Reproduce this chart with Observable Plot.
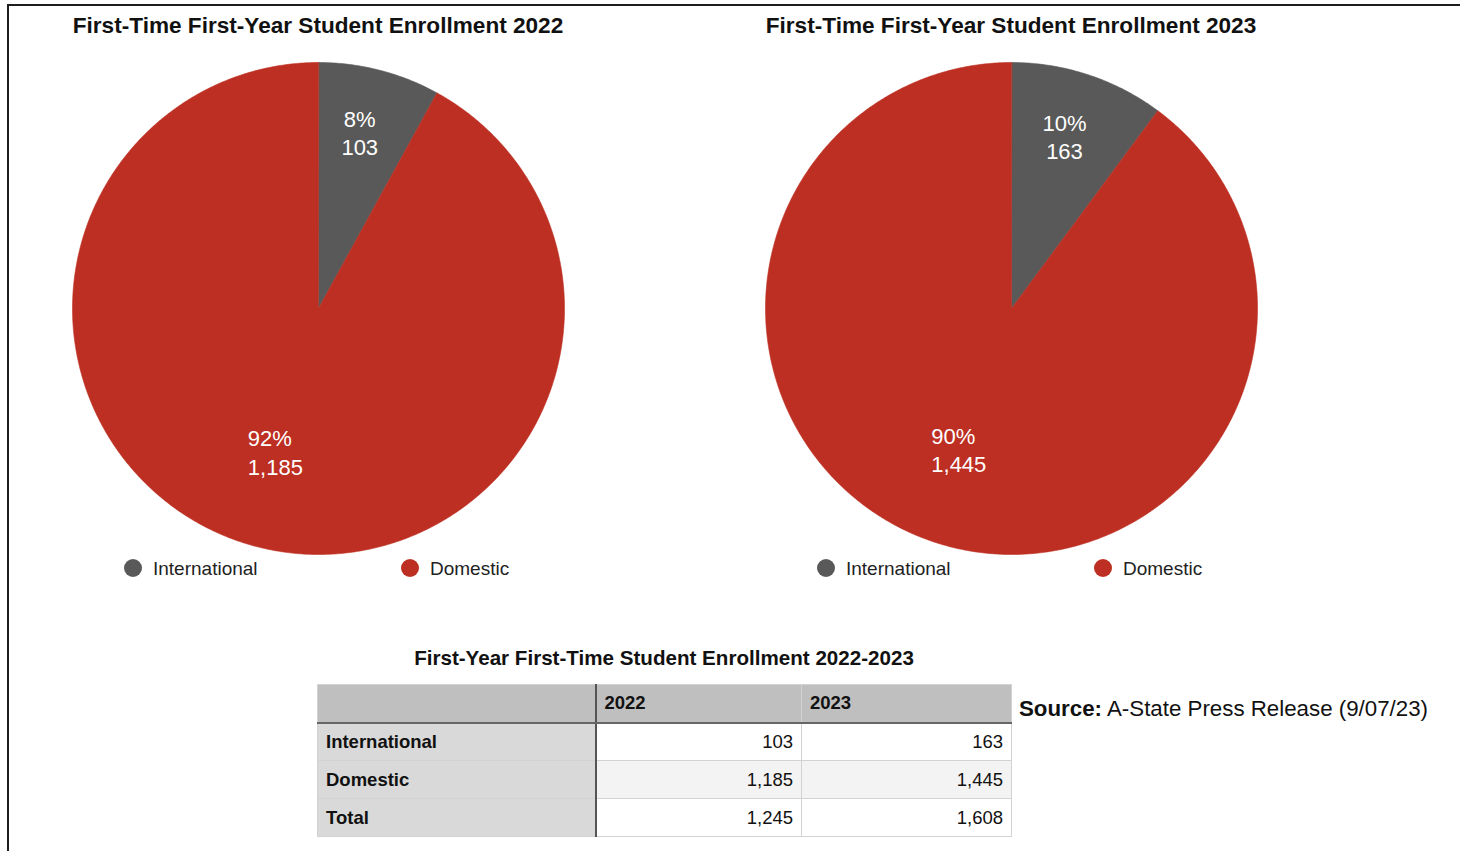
<!DOCTYPE html>
<html>
<head>
<meta charset="utf-8">
<script src="https://cdn.jsdelivr.net/npm/d3@7"></script>
<script src="https://cdn.jsdelivr.net/npm/@observablehq/plot@0.6"></script>
<style>
html,body{margin:0;padding:0;background:#fff;}
body{width:1460px;height:851px;position:relative;overflow:hidden;font-family:"Liberation Sans",Arial,Helvetica,sans-serif;color:#111;}
.frame{position:absolute;left:7px;top:4px;width:1500px;height:900px;border-left:2px solid #1e1e1e;border-top:2px solid #1e1e1e;box-sizing:border-box;}
.title{position:absolute;font-weight:bold;font-size:22.6px;line-height:22px;white-space:nowrap;transform:translateX(-50%);}
.pie{position:absolute;}
.leg{position:absolute;font-size:19px;line-height:19px;white-space:nowrap;color:#222;}
.dot{position:absolute;width:18px;height:18px;border-radius:50%;}
.ttitle{position:absolute;font-weight:bold;font-size:20.6px;line-height:20px;white-space:nowrap;transform:translateX(-50%);}
table{position:absolute;left:317px;top:684px;border-collapse:collapse;font-size:18.5px;}
td{height:37px;padding:0 8px;border:1px solid #d2d2d2;box-sizing:border-box;}
td.lab{width:278px;background:#d9d9d9;font-weight:bold;border-right:2px solid #555;}
td.num{text-align:right;}
tr.head td{background:#bfbfbf;font-weight:bold;border-bottom:2px solid #666;}
tr.head td.lab{background:#bfbfbf;}
.source{position:absolute;left:1019px;top:698px;font-size:22.3px;line-height:22px;white-space:nowrap;}
</style>
</head>
<body>
<div class="frame"></div>
<div id="root"></div>
<script>
// ---- data ----
const categories = ["International", "Domestic"];
const years = ["2022", "2023"];
const values2022 = [103, 1185];
const values2023 = [163, 1445];
const tableTotals = [1245, 1608];
const pieTitles = ["First-Time First-Year Student Enrollment 2022", "First-Time First-Year Student Enrollment 2023"];
const tableTitle = "First-Year First-Time Student Enrollment 2022-2023";
const sourceLabel = "Source:";
const sourceText = " A-State Press Release (9/07/23)";
const colors = ["#595959", "#bd2f22"];

// ---- layout constants ----
const pieCenters = [[318, 308], [1011, 308]];
const R = 246, M = 14, S = 2 * (R + M);
const labelRadius = {International: 0.74, Domestic: 0.60};
const fmt = d3.format(",");
const root = document.getElementById("root");
const FONT = "Liberation Sans, Arial, sans-serif";

[values2022, values2023].forEach((vals, k) => {
  const total = d3.sum(vals);
  const arcs = d3.pie().sort(null).value(d => d)(vals);
  const pts = [];
  arcs.forEach((a, i) => {
    const cat = categories[i];
    pts.push({cat, x: 0, y: 0});
    const n = Math.max(2, Math.ceil((a.endAngle - a.startAngle) / (Math.PI / 360)));
    for (let j = 0; j <= n; j++) {
      const t = a.startAngle + (a.endAngle - a.startAngle) * j / n;
      pts.push({cat, x: Math.sin(t), y: Math.cos(t)});
    }
  });
  const labels = arcs.map((a, i) => {
    const m = (a.startAngle + a.endAngle) / 2, r = labelRadius[categories[i]];
    return {cat: categories[i], x: r * Math.sin(m), y: r * Math.cos(m), text: Math.round(vals[i] / total * 100) + "%\n" + fmt(vals[i])};
  });
  const chart = Plot.plot({
    width: S, height: S, margin: M,
    style: {fontFamily: FONT, background: "transparent", overflow: "visible"},
    x: {domain: [-1, 1], axis: null},
    y: {domain: [-1, 1], axis: null},
    color: {domain: categories, range: colors},
    marks: [
      Plot.line(pts, {x: "x", y: "y", z: "cat", fill: "cat", stroke: "cat", strokeWidth: 0.6, curve: "linear-closed"}),
      Plot.text(labels.filter(d => d.cat === "International"), {x: "x", y: "y", text: "text", dx: -4, fill: "white", fontSize: 22, lineHeight: 1.27, fontFamily: FONT}),
      Plot.text(labels.filter(d => d.cat === "Domestic"), {x: "x", y: "y", text: "text", dx: -34, textAnchor: "start", fill: "white", fontSize: 22, lineHeight: 1.3, fontFamily: FONT})
    ]
  });
  const [cx, cy] = pieCenters[k];
  const wrap = document.createElement("div");
  wrap.className = "pie";
  wrap.style.left = (cx - S / 2) + "px";
  wrap.style.top = (cy - S / 2) + "px";
  wrap.appendChild(chart);
  root.appendChild(wrap);

  const t = document.createElement("div");
  t.className = "title";
  t.textContent = pieTitles[k];
  t.style.left = cx + "px";
  t.style.top = "15px";
  root.appendChild(t);

  const legOffsets = [-185, 92];
  categories.forEach((c, i) => {
    const d = document.createElement("div");
    d.className = "dot";
    d.style.background = colors[i];
    d.style.left = (cx + legOffsets[i] - 9) + "px";
    d.style.top = (568 - 9) + "px";
    root.appendChild(d);
    const l = document.createElement("div");
    l.className = "leg";
    l.textContent = c;
    l.style.left = (cx + legOffsets[i] + 20) + "px";
    l.style.top = "559px";
    root.appendChild(l);
  });
});

// table title
const tt = document.createElement("div");
tt.className = "ttitle";
tt.textContent = tableTitle;
tt.style.left = "664px";
tt.style.top = "648px";
root.appendChild(tt);

// table
const table = document.createElement("table");
const colW = [278, 206, 210];
const rows = [
  ["", ...years],
  [categories[0], values2022[0], values2023[0]],
  [categories[1], values2022[1], values2023[1]],
  ["Total", tableTotals[0], tableTotals[1]]
];
rows.forEach((r, ri) => {
  const tr = document.createElement("tr");
  if (ri === 0) tr.className = "head";
  r.forEach((v, ci) => {
    const td = document.createElement("td");
    td.style.width = colW[ci] + "px";
    td.style.height = "38px";
    if (ci === 0) td.className = "lab";
    else if (ri > 0) td.className = "num";
    if (ri === 2 && ci > 0) td.style.background = "#f3f3f3";
    td.textContent = typeof v === "number" ? fmt(v) : v;
    tr.appendChild(td);
  });
  table.appendChild(tr);
});
root.appendChild(table);

// source
const src = document.createElement("div");
src.className = "source";
const b = document.createElement("b");
b.textContent = sourceLabel;
src.appendChild(b);
src.appendChild(document.createTextNode(sourceText));
root.appendChild(src);
</script>
</body>
</html>
